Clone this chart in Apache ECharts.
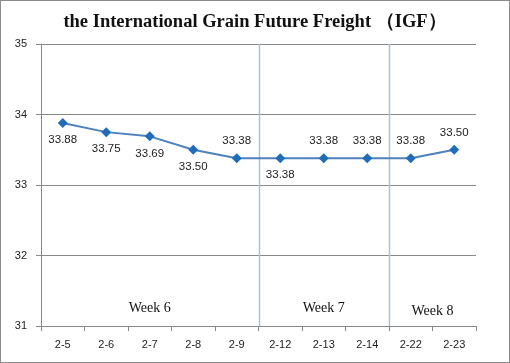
<!DOCTYPE html>
<html><head><meta charset="utf-8">
<script src="https://cdn.jsdelivr.net/npm/echarts@6/dist/echarts.min.js"></script>
<style>
html,body{margin:0;padding:0;background:#fff;}
#c{width:510px;height:363px;box-sizing:border-box;border:1px solid #8c8c8c;}
</style></head><body>
<div id="c"></div>
<script>
var categories = ['2-5','2-6','2-7','2-8','2-9','2-12','2-13','2-14','2-22','2-23'];
var values = [33.88,33.75,33.69,33.50,33.38,33.38,33.38,33.38,33.38,33.50];
var labelPos = ['bottom','bottom','bottom','bottom','top','bottom','top','top','top','top'];
var weeks = [
  {name:'Week 6', from:'2-5', to:'2-9'},
  {name:'Week 7', from:'2-12', to:'2-14'},
  {name:'Week 8', from:'2-22', to:'2-23'}
];
var weekStartIndex = [5, 8];
var yTicks = {min:31, max:35, interval:1};

var chart = echarts.init(document.getElementById('c'), null, {renderer:'canvas'});
var dataItems = values.map(function(v,i){
  return {value:v, label:{position:labelPos[i]}};
});
chart.setOption({
  animation:false,
  backgroundColor:'#fff',
  title:{
    text:'the International Grain Future Freight （IGF）',
    left:'center', top:7,
    textStyle:{fontFamily:'Liberation Serif, Times New Roman, serif', fontWeight:'bold', fontSize:18.5, color:'#111'}
  },
  grid:{left:40, right:33, top:43, bottom:36},
  xAxis:{
    type:'category', data:categories, boundaryGap:true,
    axisLine:{lineStyle:{color:'#888', width:1}},
    axisTick:{show:true, length:5, lineStyle:{color:'#888'}},
    axisLabel:{color:'#222', fontSize:11, margin:13, fontFamily:'Liberation Sans, Arial, sans-serif'},
    splitLine:{show:false}
  },
  yAxis:{
    type:'value', min:yTicks.min, max:yTicks.max, interval:yTicks.interval,
    axisLine:{show:true, lineStyle:{color:'#888'}},
    axisTick:{show:true, length:5, lineStyle:{color:'#888'}},
    axisLabel:{color:'#222', fontSize:11, margin:14, fontFamily:'Liberation Sans, Arial, sans-serif'},
    splitLine:{show:true, lineStyle:{color:'#888', width:1}}
  },
  series:[{
    type:'custom', silent:true, z:1,
    data:weekStartIndex.map(function(i){return [i];}),
    renderItem:function(params, api){
      var idx = api.value(0);
      var band = api.size([1,0])[0];
      var top = api.coord([idx, yTicks.max]);
      var bot = api.coord([idx, yTicks.min]);
      var x = Math.round(top[0] - band/2) + 0.5;
      return {type:'line', shape:{x1:x, y1:top[1], x2:x, y2:bot[1]},
        style:{stroke:'#a7c2dc', lineWidth:1.5}};
    }
  },{
    type:'line', data:dataItems, z:3,
    symbol:'diamond', symbolSize:10,
    lineStyle:{color:'#4f81bd', width:2},
    itemStyle:{color:'#1f6cb8'},
    label:{show:true, color:'#222', fontSize:11.5, distance:6, fontFamily:'Liberation Sans, Arial, sans-serif',
      formatter:function(p){return p.value.toFixed(2);}},
    markArea:{
      silent:true,
      itemStyle:{color:'rgba(0,0,0,0)'},
      label:{position:'insideBottom', distance:11, color:'#111', fontSize:14, fontFamily:'Liberation Serif, Times New Roman, serif'},
      data:weeks.map(function(w,i){
        return [{name:w.name, xAxis:w.from, label:i===2?{distance:8}:{}},{xAxis:w.to}];
      })
    }
  }]
});
</script>
</body></html>
